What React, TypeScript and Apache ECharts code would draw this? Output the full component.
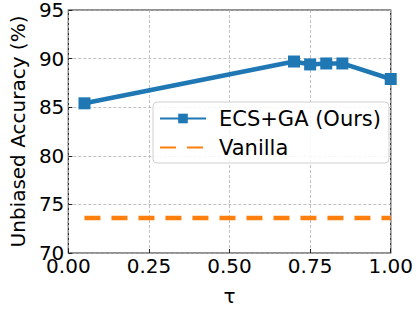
import React, { useEffect, useRef } from "react";
import * as echarts from "echarts";

const tauOurs = [0.05, 0.7, 0.75, 0.8, 0.85, 1.0];
const accOurs = [85.4, 89.7, 89.4, 89.5, 89.5, 87.9];
const tauVanilla = [0.05, 1.0];
const accVanilla = [73.6, 73.6];
const seriesNames = ["ECS+GA (Ours)", "Vanilla"];

const FONT = "DejaVu Sans";

export default function App() {
  const ref = useRef<HTMLDivElement>(null);
  useEffect(() => {
    const chart = echarts.init(ref.current!, undefined, { renderer: "svg" });
    chart.setOption({
      animation: false,
      textStyle: { fontFamily: FONT },
      grid: {
        left: 54,
        right: 23,
        top: 8,
        bottom: 49,
        show: true,
        borderColor: "#222",
        borderWidth: 1.2,
        backgroundColor: "transparent",
      },
      legend: {
        orient: "vertical",
        left: 153,
        top: 102,
        data: [
          { name: seriesNames[0] },
          { name: seriesNames[1], itemStyle: { opacity: 0 } },
        ],
        itemWidth: 46,
        itemHeight: 12,
        itemGap: 8,
        padding: [6, 8, 5, 6],
        borderColor: "#d0d0d0",
        borderWidth: 1,
        borderRadius: 4,
        backgroundColor: "rgba(255,255,255,0.85)",
        textStyle: { fontSize: 21, color: "#000", fontFamily: FONT, padding: [0, 0, 0, 8] },
      },
      xAxis: {
        type: "value",
        min: 0,
        max: 1,
        interval: 0.25,
        name: "τ",
        nameLocation: "middle",
        nameGap: 33,
        nameTextStyle: { fontSize: 20, color: "#000", fontFamily: FONT },
        axisLine: { show: false },
        axisTick: { show: true, inside: true, length: 4, lineStyle: { color: "#222" } },
        axisLabel: {
          fontSize: 20,
          color: "#000",
          margin: 3,
          formatter: (v: number) => v.toFixed(2),
        },
        splitLine: { show: true, lineStyle: { color: "#b0b0b0", type: [3, 2], width: 0.8 } },
      },
      yAxis: {
        type: "value",
        min: 70,
        max: 95,
        interval: 5,
        name: "Unbiased Accuracy (%)",
        nameLocation: "middle",
        nameRotate: 90,
        nameGap: 40,
        nameTextStyle: { fontSize: 20, color: "#000", fontFamily: FONT },
        axisLine: { show: false },
        axisTick: { show: true, inside: true, length: 4, lineStyle: { color: "#222" } },
        axisLabel: { fontSize: 20, color: "#000", margin: 4 },
        splitLine: { show: true, lineStyle: { color: "#b0b0b0", type: [3, 2], width: 0.8 } },
      },
      series: [
        {
          name: seriesNames[0],
          type: "line",
          data: tauOurs.map((t, i) => [t, accOurs[i]]),
          symbol: "rect",
          symbolSize: 12,
          lineStyle: { color: "#1f77b4", width: 4.5 },
          itemStyle: { color: "#1f77b4" },
          z: 3,
        },
        {
          name: seriesNames[1],
          type: "line",
          data: tauVanilla.map((t, i) => [t, accVanilla[i]]),
          symbol: "none",
          lineStyle: { color: "#ff7f0e", width: 4.5, type: [16, 11] },
          itemStyle: { color: "#ff7f0e" },
          z: 2,
        },
      ],
    });
    return () => chart.dispose();
  }, []);
  return <div ref={ref} style={{ width: 416, height: 311, position: "absolute", left: 0, top: 0 }} />;
}
